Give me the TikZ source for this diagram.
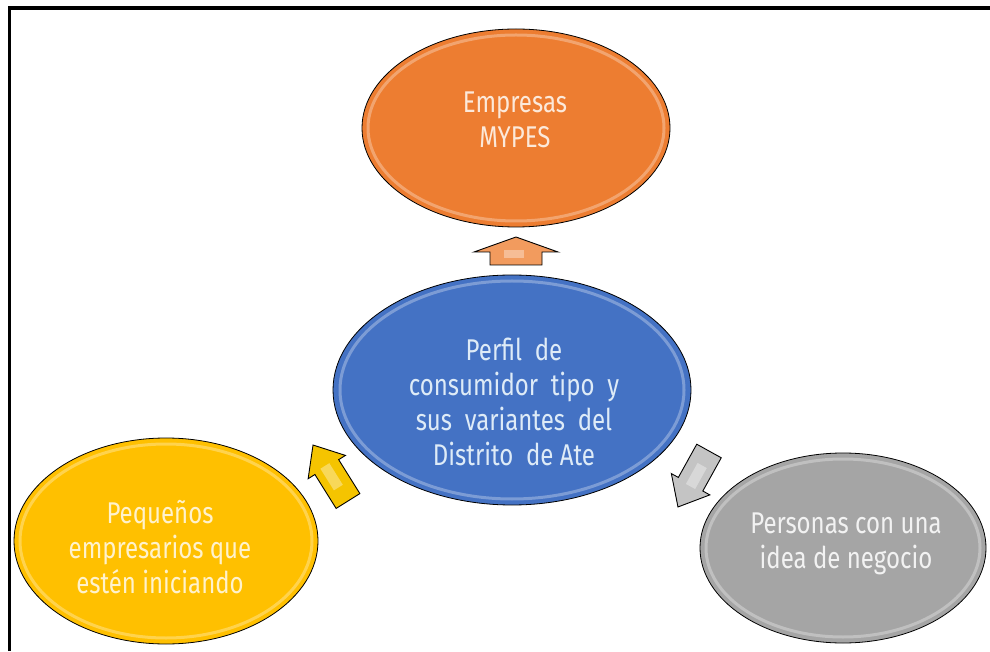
\documentclass[tikz,border=0pt]{standalone}
\usepackage{fontspec}
\setmainfont{Fira Sans}[FakeStretch=0.8]
\usetikzlibrary{shapes.geometric}
\definecolor{orangeC}{HTML}{ED7D31}
\definecolor{orangeT}{HTML}{FCE9DA}
\definecolor{orangeA}{HTML}{F29B5E}
\definecolor{blueC}{HTML}{4472C4}
\definecolor{blueT}{HTML}{DEEBF7}
\definecolor{yellowC}{HTML}{FFC000}
\definecolor{yellowT}{HTML}{FFF2CC}
\definecolor{yellowA}{HTML}{F5C400}
\definecolor{grayC}{HTML}{A5A5A5}
\definecolor{grayT}{HTML}{F2F2F2}
\definecolor{grayA}{HTML}{C4C4C4}
\newcommand\blkarrow[7]{%
  \begin{scope}[shift={#1}, rotate=#2]
    \draw[arrowshape, fill=#7] (0,-#6) -- (#3-#4,-#6) -- (#3-#4,-#5) -- (#3,0)
      -- (#3-#4,#5) -- (#3-#4,#6) -- (0,#6) -- cycle;
    \fill[white, opacity=0.35] (0.25*#3,-0.3*#6) rectangle (#3-#4+2,0.45*#6);
  \end{scope}}
\begin{document}
\begin{tikzpicture}[x=1pt,y=1pt,
  blob/.style={ellipse, draw=black, line width=0.8pt, inner sep=0pt},
  rim/.style={white, opacity=0.3, line width=3pt},
  txt/.style={align=center, font=\fontsize{30}{35}\selectfont},
  arrowshape/.style={draw=black, line width=0.9pt, line join=miter}]
\useasboundingbox (0,0) rectangle (990,651);
\draw[line width=3.5pt] (9.5,0) -- (9.5,643) -- (990,643);

% ellipses
\node[blob, fill=orangeC, minimum width=308, minimum height=198] (emp) at (516,523) {};
\node[blob, fill=blueC, minimum width=358, minimum height=230] (perf) at (512,261) {};
\node[blob, fill=yellowC, minimum width=304, minimum height=206] (peq) at (166,110) {};
\node[blob, fill=grayC, minimum width=286, minimum height=190] (pers) at (843,103) {};

\draw[rim] (emp.center) ellipse [x radius=148, y radius=93];
\draw[rim] (perf.center) ellipse [x radius=172, y radius=109];
\draw[rim] (peq.center) ellipse [x radius=146, y radius=97];
\draw[rim] (pers.center) ellipse [x radius=137, y radius=89];

% texts
\node[txt, text=orangeT] (empT) at (515,531) {Empresas\\MYPES};
\node[txt, text=blueT] (perfT) at (514,249) {Perfil\ \ de\\consumidor\ \ tipo\ \ y\\sus\ \ variantes\ \ del\\Distrito\ \ de Ate};
\node[txt, text=yellowT] (peqT) at (160,104) {Pequeños\\empresarios que\\estén iniciando};
\node[txt, text=grayT] (persT) at (846,107) {Personas con una\\idea de negocio};

% arrows
\coordinate (aO) at (516,386);
\coordinate (aY) at (348,150);
\coordinate (aG) at (709,200);
\blkarrow{(aO)}{90}{28}{15}{42}{26}{orangeA}
\blkarrow{(aY)}{122}{66}{26}{22}{14}{yellowA}
\blkarrow{(aG)}{241}{64}{26}{22}{14}{grayA}
\end{tikzpicture}
\end{document}
